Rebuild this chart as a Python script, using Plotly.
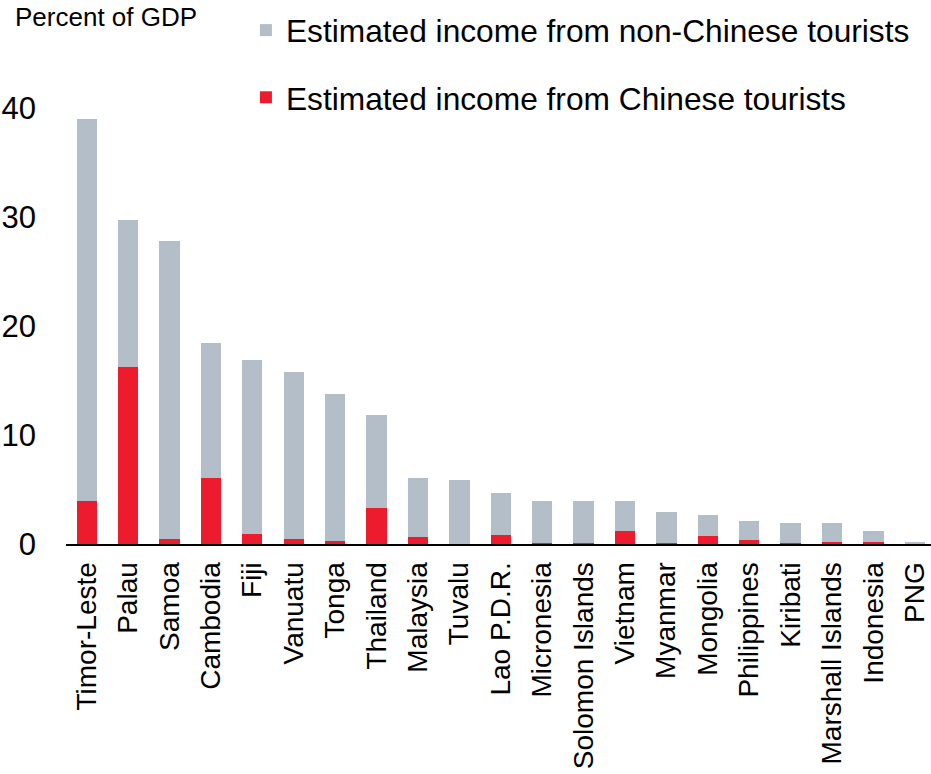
import plotly.graph_objects as go

countries = ["Timor-Leste", "Palau", "Samoa", "Cambodia", "Fiji", "Vanuatu", "Tonga",
             "Thailand", "Malaysia", "Tuvalu", "Lao P.D.R.", "Micronesia", "Solomon Islands",
             "Vietnam", "Myanmar", "Mongolia", "Philippines", "Kiribati", "Marshall Islands",
             "Indonesia", "PNG"]
total = [39.0, 29.75, 27.8, 18.4, 16.85, 15.8, 13.8, 11.8, 6.1, 5.9, 4.7, 3.9, 3.9,
         3.9, 2.9, 2.7, 2.1, 1.9, 1.9, 1.2, 0.15]
chinese = [3.9, 16.2, 0.43, 6.1, 0.89, 0.49, 0.25, 3.3, 0.64, 0.03, 0.85, 0.1, 0.1,
           1.2, 0.1, 0.7, 0.4, 0.05, 0.2, 0.2, 0.08]
non_chinese = [round(t - c, 3) for t, c in zip(total, chinese)]

RED = "#EC1C2E"
GRAY = "#B4BEC8"
FONT = "Liberation Sans, Arial, sans-serif"

fig = go.Figure()
fig.add_trace(go.Bar(x=countries, y=chinese, name="Estimated income from Chinese tourists",
                     marker=dict(color=RED, line=dict(width=0)), legendgroup="a",
                     legendrank=2))
fig.add_trace(go.Bar(x=countries, y=non_chinese, name="Estimated income from non-Chinese tourists",
                     marker=dict(color=GRAY, line=dict(width=0)), legendgroup="b",
                     legendrank=1))

fig.update_layout(
    width=931, height=774,
    barmode="stack", bargap=0.51,
    margin=dict(l=66, r=0, t=100, b=230, autoexpand=False),
    paper_bgcolor="white", plot_bgcolor="white",
    font=dict(family=FONT, color="black"),
    showlegend=True,
    legend=dict(x=0.208, y=1.2185, xanchor="left", yanchor="top",
                traceorder="grouped", tracegroupgap=23,
                font=dict(size=31.7, family=FONT, color="black"),
                bgcolor="rgba(0,0,0,0)"),
    xaxis=dict(range=[-0.5, 20.39], showline=True, linecolor="black", linewidth=2,
               showgrid=False, zeroline=False, ticks="", tickangle=-90, automargin=False,
               tickfont=dict(size=28, family=FONT, color="black"), ticklabelstandoff=5),
    yaxis=dict(range=[0, 40.73], tickvals=[0, 10, 20, 30, 40], showgrid=False,
               zeroline=False, showline=False, ticks="", automargin=False,
               tickfont=dict(size=31, family=FONT, color="black"), ticklabelstandoff=29),
    annotations=[dict(text="Percent of GDP", xref="paper", yref="paper",
                      x=-0.0613, y=1.187, xanchor="left", yanchor="middle",
                      showarrow=False, font=dict(size=26, family=FONT, color="black"))],
)

fig.write_html("out.html", config={"displayModeBar": False},
               post_script="document.body.style.margin='0px';")
